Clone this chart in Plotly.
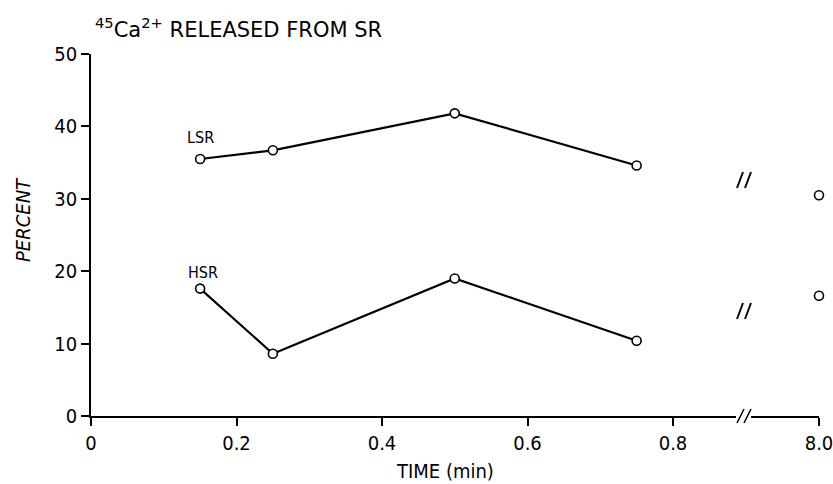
import plotly.graph_objects as go

# ---- data ----
time_min = [0.15, 0.25, 0.5, 0.75]
lsr_pct = [35.5, 36.7, 41.8, 34.6]
hsr_pct = [17.6, 8.6, 19.0, 10.4]
late_time = [8.0]
lsr_late = [30.5]
hsr_late = [16.6]
x_ticks = [0, 0.2, 0.4, 0.6, 0.8]
x_ticktext = ["0", "0.2", "0.4", "0.6", "0.8"]
late_ticks = [8.0]
late_ticktext = ["8.0"]
y_ticks = [0, 10, 20, 30, 40, 50]
break_levels = [32.6, 14.5]

FONT = "DejaVu Sans Condensed, DejaVu Sans, sans-serif"
TFONT = "DejaVu Sans, sans-serif"

W, H = 833, 484
ML, MR, MT, MB = 91, 14, 54, 68
plot_w = W - ML - MR
plot_h = H - MT - MB
PX_PER_UNIT = 727.5

def px_x(px):
    return (px - ML) / plot_w

def px_y(py):
    return (H - MB - py) / plot_h

split_left = px_x(736)
split_right = px_x(751)

fig = go.Figure()

line_style = dict(color="black", width=2.2)
marker_style = dict(symbol="circle", size=9, color="white",
                    line=dict(color="black", width=1.6))

for vals in (lsr_pct, hsr_pct):
    fig.add_trace(go.Scatter(x=time_min, y=vals, mode="lines+markers",
                             line=line_style, marker=marker_style,
                             cliponaxis=False, showlegend=False,
                             xaxis="x", yaxis="y"))

for vals in (lsr_late, hsr_late):
    fig.add_trace(go.Scatter(x=late_time, y=vals, mode="markers",
                             marker=marker_style, cliponaxis=False,
                             showlegend=False, xaxis="x2", yaxis="y"))

main_range_max = (736 - ML) / PX_PER_UNIT
late_span = (1.0 - split_right) * plot_w / PX_PER_UNIT

axis_common = dict(showline=True, linecolor="black", linewidth=1.5,
                   ticks="outside", tickcolor="black", ticklen=8, tickwidth=1.5,
                   showgrid=False, zeroline=False, ticklabeloverflow="allow",
                   automargin=False,
                   tickfont=dict(family=FONT, size=20, color="black"))

fig.update_layout(
    width=W, height=H,
    margin=dict(l=ML, r=MR, t=MT, b=MB, autoexpand=False),
    plot_bgcolor="white", paper_bgcolor="white",
    xaxis=dict(domain=[0, split_left], range=[0, main_range_max],
               tickvals=x_ticks, ticktext=x_ticktext, anchor="y", **axis_common),
    xaxis2=dict(domain=[split_right, 1.0],
                range=[8.0 - late_span, 8.0 + 1e-6],
                tickvals=late_ticks, ticktext=late_ticktext, anchor="y",
                **axis_common),
    yaxis=dict(range=[0, 50], tickvals=y_ticks, **axis_common),
)

# axis break marks on the x axis
for dx in (0, 7):
    fig.add_shape(type="line", xref="paper", yref="paper",
                  x0=px_x(737 + dx), x1=px_x(744 + dx),
                  y0=px_y(423), y1=px_y(409),
                  line=dict(color="black", width=1.5))

# break marks inside the plot for each series
for lvl in break_levels:
    for dx in (0, 8):
        fig.add_shape(type="line", xref="paper", yref="y",
                      ysizemode="pixel", yanchor=lvl,
                      x0=px_x(737 + dx), x1=px_x(743 + dx),
                      y0=-8, y1=8,
                      line=dict(color="black", width=2))

# series labels
fig.add_annotation(xref="x", yref="y", x=time_min[0], y=lsr_pct[0], yshift=21,
                   text="LSR", showarrow=False,
                   font=dict(family=FONT, size=16, color="black"))
fig.add_annotation(xref="x", yref="y", x=time_min[0], y=hsr_pct[0], yshift=16,
                   text="HSR", showarrow=False, xshift=3,
                   font=dict(family=FONT, size=16, color="black"))

# title
fig.add_annotation(xref="paper", yref="paper", x=px_x(93), y=px_y(28),
                   xanchor="left", yanchor="middle", showarrow=False,
                   text="<sup>45</sup>Ca<sup>2+</sup> RELEASED FROM SR",
                   font=dict(family=TFONT, size=21, color="black"))

# axis titles
fig.add_annotation(xref="paper", yref="paper", x=px_x(23), y=px_y(220),
                   xanchor="center", yanchor="middle",
                   text="<i>PERCENT</i>", textangle=-90, showarrow=False,
                   font=dict(family=FONT, size=20, color="black"))
fig.add_annotation(xref="paper", yref="paper", x=px_x(445), y=px_y(471),
                   xanchor="center", yanchor="middle",
                   text="TIME (min)", showarrow=False,
                   font=dict(family=FONT, size=20, color="black"))

fig.write_html("out.html")
